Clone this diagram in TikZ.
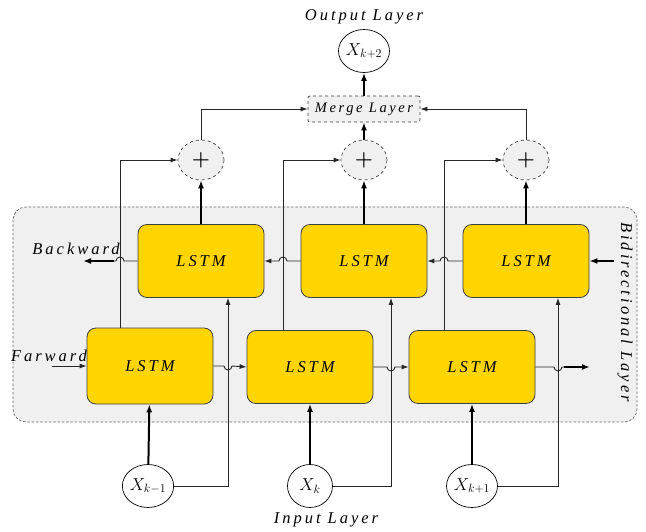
\documentclass[tikz,border=0pt]{standalone}
\usepackage{fontspec}
\newfontfamily\lblfont[LetterSpace=18]{Liberation Serif}
\usetikzlibrary{arrows.meta,shapes.geometric}

\definecolor{lstmyellow}{HTML}{FFD500}
\definecolor{panelgray}{HTML}{F0F0F0}
\definecolor{edgegray}{HTML}{404040}

\tikzset{
  lbl/.style={font=\lblfont\itshape\fontsize{16.5}{18}\selectfont},
  lstm/.style={draw=edgegray, fill=lstmyellow, rounded corners=9pt, line width=0.8pt,
    minimum width=126pt, minimum height=73pt, lbl},
  unit/.style={ellipse, draw, line width=0.7pt, minimum width=45pt, minimum height=43pt,
    inner sep=0pt, font=\fontsize{17}{19}\selectfont},
  sumnode/.style={ellipse, draw=edgegray, dashed, fill=panelgray, line width=0.7pt,
    minimum width=46pt, minimum height=40pt, font=\boldmath\fontsize{20}{22}\selectfont},
  merge/.style={draw=edgegray, dashed, fill=panelgray, rounded corners=2pt, line width=0.7pt,
    minimum width=112pt, minimum height=26pt, inner sep=1pt,
    font=\lblfont\itshape\fontsize{14.5}{16}\selectfont},
  thinline/.style={draw=black!85, line width=0.9pt, -{Latex[length=7pt,width=5pt]}},
  thickline/.style={draw=black, line width=2pt, -{Latex[length=8pt,width=6pt]}},
}

\begin{document}
\begin{tikzpicture}[x=1pt, y=-1pt]
  \useasboundingbox (0,0) rectangle (646,532);

  % bidirectional layer panel
  \draw[draw=black!60, dash pattern=on 2.5pt off 1.8pt, fill=panelgray, rounded corners=13pt, line width=0.7pt]
    (13,207) rectangle (637,422);
  \node[lbl, rotate=-90] (bilbl) at (625,312) {Bidirectional Layer};

  % backward cells
  \node[lstm] (b1) at (201,261) {LSTM};
  \node[lstm] (b2) at (364,261) {LSTM};
  \node[lstm] (b3) at (526,261) {LSTM};

  % forward cells
  \node[lstm, minimum height=76pt] (f1) at (150,366) {LSTM};
  \node[lstm] (f2) at (310,367) {LSTM};
  \node[lstm] (f3) at (472,367) {LSTM};

  % summation, merge and output
  \node[sumnode] (p1) at (201,160) {$+$};
  \node[sumnode] (p2) at (364,160) {$+$};
  \node[sumnode] (p3) at (526,160) {$+$};
  \node[merge] (merge) at (364,109) {Merge Layer};
  \node[unit] (out) at (364,51) {$X_{k+2}$};
  \node[lbl] (outlbl) at (364,17) {Output Layer};

  % inputs
  \node[unit] (x1) at (148,486) {$X_{k-1}$};
  \node[unit] (x2) at (310,486) {$X_k$};
  \node[unit] (x3) at (472,486) {$X_{k+1}$};
  \node[lbl] (inlbl) at (326,520) {Input Layer};

  \node[lbl] (bwlbl) at (76,249) {Backward};
  \node[lbl] (fwlbl) at (49,356) {Farward};

  \coordinate (bwin) at (614,261);
  \coordinate (bwhop) at (114,261);
  \coordinate (bwout) at (83,261);
  \coordinate (fwin) at (52,366);
  \coordinate (fwhop) at (564,367);
  \coordinate (fwout) at (590,367);

  % input to cells
  \draw[thickline] (x1) -- (f1);
  \draw[thickline] (x2) -- (f2);
  \draw[thickline] (x3) -- (f3);
  \draw[thinline] (x1.east) -| ([xshift=27pt]b1.south);
  \draw[thinline] (x2.east) -| ([xshift=27pt]b2.south);
  \draw[thinline] (x3.east) -| ([xshift=32pt]b3.south);

  % forward outputs to summation
  \draw[thinline] (f1.north) ++(-30,0) |- (p1.west);
  \draw[thinline] (f2.north) ++(-27,0) |- (p2.west);
  \draw[thinline] (f3.north) ++(-28,0) |- (p3.west);

  % backward outputs to summation
  \draw[thickline] (b1) -- (p1);
  \draw[thickline] (b2) -- (p2);
  \draw[thickline] (b3) -- (p3);

  % summation to merge to output
  \draw[thinline] (p1.north) |- (merge.west);
  \draw[thickline] (p2) -- (merge);
  \draw[thinline] (p3.north) |- (merge.east);
  \draw[thickline] (merge) -- (out);

  % backward chain, hopping over the verticals
  \draw[thickline] (bwin) -- (b3.east);
  \draw[thinline] (b3.west) -- (448,261) arc[start angle=0, end angle=180, radius=4pt] -- (b2.east);
  \draw[thinline] (b2.west) -- (287,261) arc[start angle=0, end angle=180, radius=4pt] -- (b1.east);
  \draw[thinline, -] (b1.west) -- (124,261) arc[start angle=0, end angle=180, radius=4pt] -- (bwhop);
  \draw[thickline] (bwhop) -- (bwout);

  % forward chain
  \draw[thinline] (fwin) -- (f1.west);
  \draw[thinline] (f1.east) -- (224,366) arc[start angle=180, end angle=360, radius=4pt] -- (f2.west);
  \draw[thinline] (f2.east) -- (387,367) arc[start angle=180, end angle=360, radius=4pt] -- (f3.west);
  \draw[thinline, -] (f3.east) -- (554,367) arc[start angle=180, end angle=360, radius=4pt] -- (fwhop);
  \draw[thickline] (fwhop) -- (fwout);
\end{tikzpicture}
\end{document}
